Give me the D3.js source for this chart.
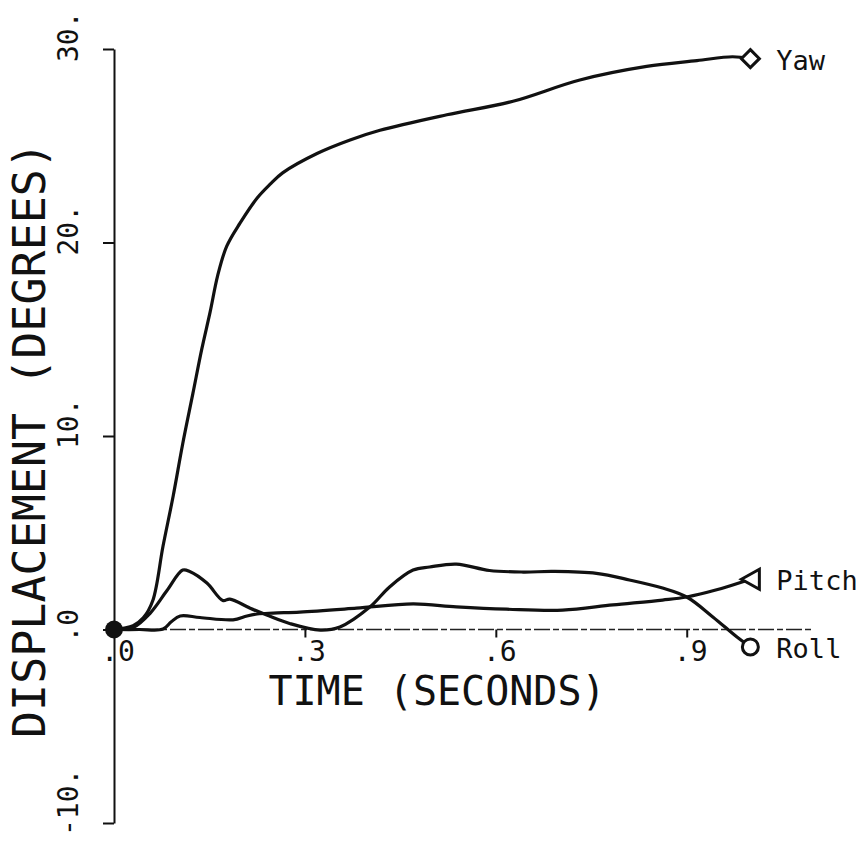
<!DOCTYPE html>
<html>
<head>
<meta charset="utf-8">
<script src="https://cdn.jsdelivr.net/npm/d3@7"></script>
<style>
  body { margin: 0; background: #fff; }
  text { font-family: "DejaVu Sans Mono", monospace; fill: #111; }
</style>
</head>
<body>
<svg id="chart" width="863" height="842"></svg>
<script>
// values, [time (s), displacement (deg)]
var yaw = [[0,0],[0.03,0.2],[0.046,0.6],[0.061,1.5],[0.077,4.3],[0.093,6.9],[0.108,9.6],[0.124,12.2],
  [0.138,14.5],[0.151,16.4],[0.163,18.3],[0.177,19.8],[0.198,21.0],[0.225,22.3],[0.245,23.0],[0.265,23.6],
  [0.319,24.6],[0.371,25.3],[0.418,25.8],[0.523,26.6],[0.627,27.3],[0.732,28.4],[0.837,29.1],[0.916,29.4],
  [0.972,29.6],[1.0,29.5]];
var pitch = [[0,0],[0.04,0],[0.077,0.02],[0.09,0.4],[0.104,0.7],[0.135,0.62],[0.187,0.5],[0.209,0.7],[0.225,0.8],
  [0.25,0.85],[0.292,0.9],[0.381,1.1],[0.47,1.32],[0.538,1.17],[0.617,1.05],[0.705,1.0],[0.784,1.27],
  [0.862,1.52],[0.9,1.68],[0.947,2.05],[1.0,2.6]];
var roll = [[0,0],[0.03,0.1],[0.057,0.85],[0.083,2.0],[0.108,3.07],[0.119,3.0],[0.146,2.4],[0.171,1.5],
  [0.182,1.57],[0.214,1.1],[0.24,0.75],[0.277,0.3],[0.324,-0.03],[0.355,0.13],[0.402,1.16],[0.433,2.2],
  [0.47,3.07],[0.496,3.23],[0.538,3.38],[0.59,3.05],[0.643,2.97],[0.69,3.0],[0.758,2.9],[0.81,2.56],
  [0.862,2.14],[0.9,1.68],[0.941,0.65],[0.979,-0.39],[1.0,-0.9]];

var seriesNames = ["Yaw", "Pitch", "Roll"];
var xTicks = [0, 0.3, 0.6, 0.9];
var xTickLabels = [".0", ".3", ".6", ".9"];
var yTicks = [-10, 0, 10, 20, 30];
var yTickLabels = ["-10.", ".0", "10.", "20.", "30."];

var svg = d3.select("#chart");
var x = d3.scaleLinear().domain([0, 1.1]).range([114, 814]);
var y = d3.scaleLinear().domain([-10, 30]).range([823, 49]);

// y axis
var yAxis = d3.axisLeft(y).tickValues(yTicks).tickSize(11).tickSizeOuter(0).tickFormat("");
var gy = svg.append("g").attr("transform", "translate(" + x(0) + ",0)").call(yAxis);
gy.selectAll("path, line").attr("stroke", "#111").attr("stroke-width", 2);

svg.selectAll(".ylab").data(yTicks).enter().append("text")
  .attr("class", "ylab")
  .attr("font-size", 28)
  .attr("transform", function(d) { return "translate(78," + (y(d) + 13) + ") rotate(-90)" })
  .text(function(d, i) { return yTickLabels[i] });

// x axis (broken line on the original)
svg.append("line")
  .attr("x1", x(0)).attr("x2", x(1.1))
  .attr("y1", y(0)).attr("y2", y(0))
  .attr("stroke", "#222").attr("stroke-width", 1.5)
  .attr("stroke-dasharray", "16,3,6,3");

var xAxis = d3.axisBottom(x).tickValues(xTicks.slice(1)).tickSize(8).tickSizeOuter(0).tickFormat("");
var gx = svg.append("g").attr("transform", "translate(0," + y(0) + ")").call(xAxis);
gx.select(".domain").remove();
gx.selectAll("line").attr("stroke", "#111").attr("stroke-width", 2);

svg.selectAll(".xlab").data(xTicks).enter().append("text")
  .attr("class", "xlab")
  .attr("font-size", 28)
  .attr("text-anchor", "middle")
  .attr("x", function(d) { return x(d) + 4 })
  .attr("y", y(0) + 31)
  .text(function(d, i) { return xTickLabels[i] });

// axis titles
svg.append("text")
  .attr("font-size", 40)
  .attr("text-anchor", "middle")
  .attr("x", 437).attr("y", 705)
  .text("TIME (SECONDS)");

svg.append("text")
  .attr("font-size", 45)
  .attr("text-anchor", "middle")
  .attr("transform", "translate(45,440) rotate(-90)")
  .text("DISPLACEMENT (DEGREES)");

// curves
var line = d3.line()
  .x(function(d) { return x(d[0]) })
  .y(function(d) { return y(d[1]) })
  .curve(d3.curveCatmullRom.alpha(0.5));

var all = [yaw, pitch, roll];
svg.selectAll(".curve").data(all).enter().append("path")
  .attr("class", "curve")
  .attr("d", line)
  .attr("fill", "none")
  .attr("stroke", "#111")
  .attr("stroke-width", 3.2)
  .attr("stroke-linejoin", "round");

// end markers
var markers = [
  "M0,-9L9,0L0,9L-9,0Z",
  "M-9,0L9,-10L9,10Z",
  null
];
all.forEach(function(s, i) {
  var last = s[s.length - 1];
  var px = x(last[0]), py = y(last[1]);
  if (markers[i]) {
    svg.append("path")
      .attr("d", markers[i])
      .attr("transform", "translate(" + px + "," + py + ")")
      .attr("fill", "#fff").attr("stroke", "#111").attr("stroke-width", 3);
  } else {
    svg.append("circle")
      .attr("cx", px).attr("cy", py).attr("r", 8)
      .attr("fill", "#fff").attr("stroke", "#111").attr("stroke-width", 3);
  }
  svg.append("text")
    .attr("font-size", 27)
    .attr("x", px + 26)
    .attr("y", py + 11)
    .text(seriesNames[i]);
});

// start point
svg.append("circle")
  .attr("cx", x(0)).attr("cy", y(0)).attr("r", 9)
  .attr("fill", "#111");
</script>
</body>
</html>
